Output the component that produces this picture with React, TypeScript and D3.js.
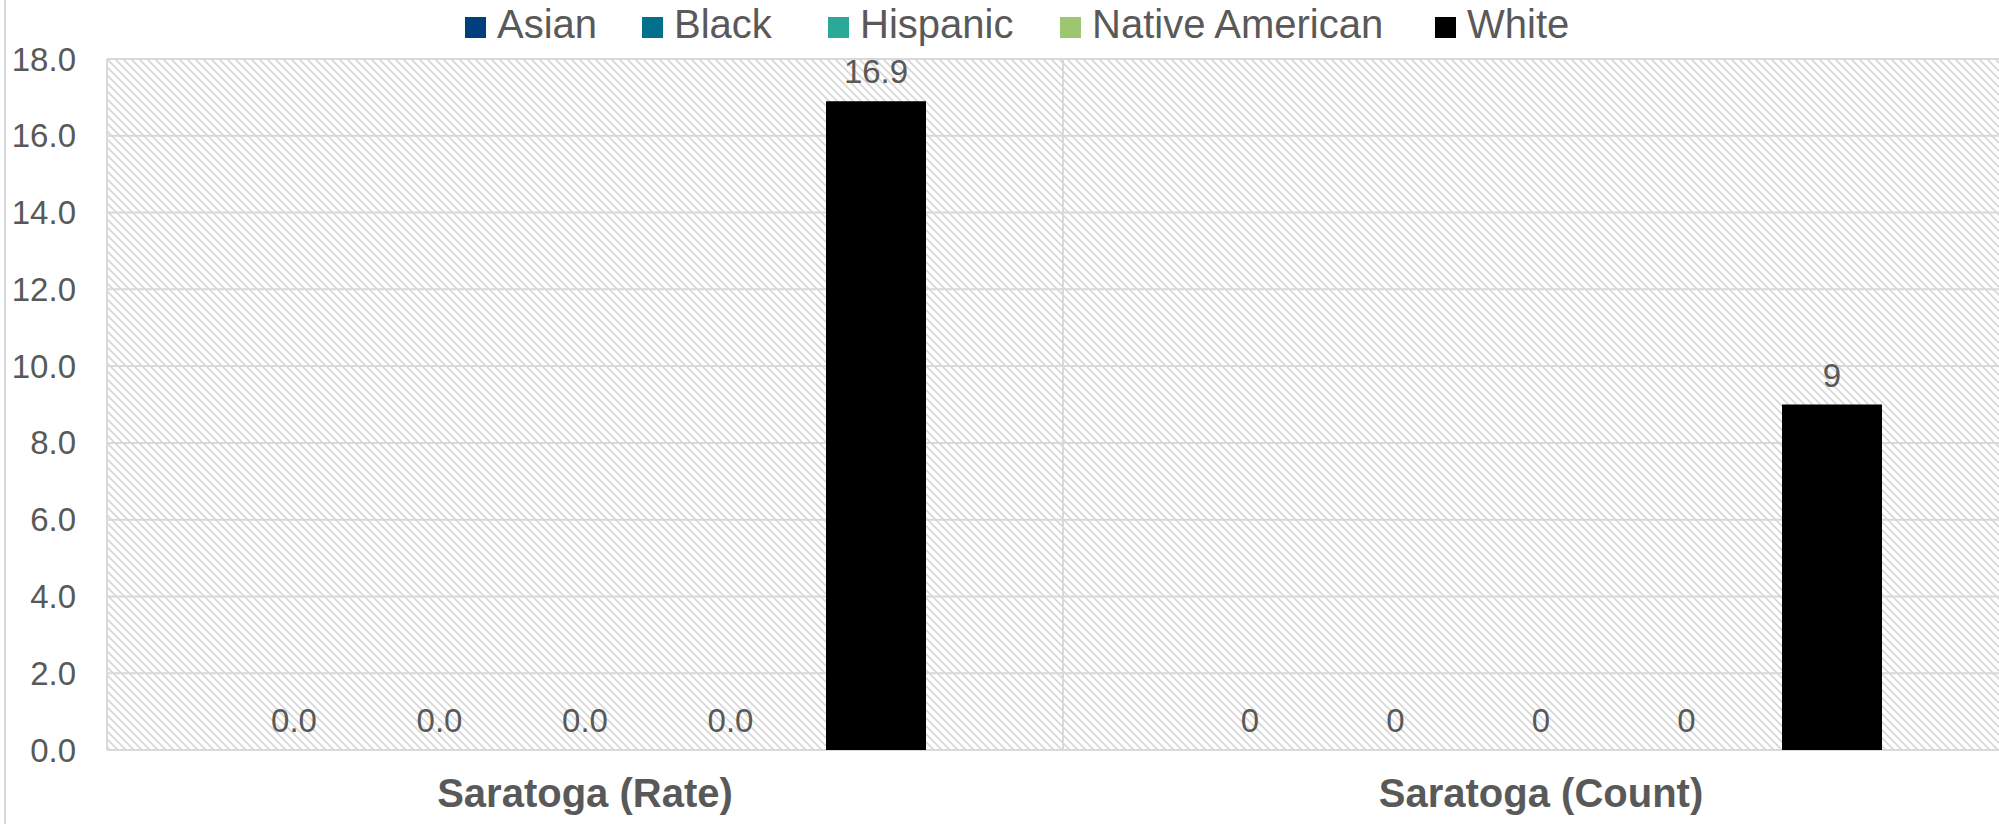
import React from 'react';
import * as d3 from 'd3';

// chart data
const categories = ['Saratoga (Rate)', 'Saratoga (Count)'];
const seriesNames = ['Asian', 'Black', 'Hispanic', 'Native American', 'White'];
const asian = [0, 0];
const black = [0, 0];
const hispanic = [0, 0];
const nativeAmerican = [0, 0];
const white = [16.9, 9];
const labelDecimals = [1, 0];
const yTicks = [0, 2, 4, 6, 8, 10, 12, 14, 16, 18];

const seriesValues = [asian, black, hispanic, nativeAmerican, white];
const colors = ['#003F7D', '#00708E', '#2AA898', '#9DC670', '#000000'];

const W = 1999;
const H = 824;
const margin = { top: 59, left: 107, bottom: 750, right: 2019 };
const textColor = '#595959';
const gridColor = '#d9d9d9';
const font = '"Liberation Sans", Arial, sans-serif';

// legend item left edges (square start), as laid out by the source
const legendX = [465, 642, 828, 1060, 1435];

export default function App() {
  const x0 = d3.scaleBand<string>()
    .domain(categories)
    .range([margin.left, margin.right])
    .padding(0);

  const bw = x0.bandwidth();
  const outerPad = bw * 0.1433;
  const x1 = d3.scaleBand<string>()
    .domain(seriesNames)
    .range([outerPad, bw - outerPad])
    .paddingInner(0.3127)
    .paddingOuter(0);

  const y = d3.scaleLinear()
    .domain([0, 18])
    .range([margin.bottom, margin.top]);

  const boundaries = [...categories.map((c) => x0(c) as number), margin.right];

  return (
    <svg width={W} height={H} style={{ position: 'absolute', left: 0, top: 0, display: 'block' }}
      fontFamily={font}>
      <defs>
        <pattern id="hatch" width="8" height="8" patternUnits="userSpaceOnUse">
          <rect width="8" height="8" fill="#ffffff" />
          <path d="M-2,-2 L10,10 M-2,6 L2,10 M6,-2 L10,2" stroke="#d6d6d6" strokeWidth="1.6" />
        </pattern>
      </defs>

      <rect x={0} y={0} width={W} height={H} fill="#ffffff" />
      <line x1={5} x2={5} y1={0} y2={H} stroke={gridColor} strokeWidth={2} />

      {/* plot area */}
      <rect x={margin.left} y={margin.top} width={margin.right - margin.left}
        height={margin.bottom - margin.top} fill="url(#hatch)" />

      {/* horizontal gridlines */}
      {yTicks.map((t) => (
        <line key={'g' + t} x1={margin.left} x2={margin.right} y1={y(t)} y2={y(t)}
          stroke={gridColor} strokeWidth={2} />
      ))}
      {/* vertical category gridlines */}
      {boundaries.map((b, i) => (
        <line key={'v' + i} x1={b} x2={b} y1={margin.top} y2={margin.bottom}
          stroke={gridColor} strokeWidth={2} />
      ))}

      {/* y tick labels */}
      {yTicks.map((t) => (
        <text key={'t' + t} x={76} y={y(t)} dy="0.35em" textAnchor="end"
          fontSize={33} fill={textColor}>{t.toFixed(1)}</text>
      ))}

      {/* bars and labels */}
      {categories.map((cat, ci) => (
        <g key={cat} transform={`translate(${x0(cat)},0)`}>
          {seriesNames.map((s, si) => {
            const v = seriesValues[si][ci];
            const bx = x1(s) as number;
            return (
              <g key={s}>
                <rect x={bx} y={y(v)} width={x1.bandwidth()} height={y(0) - y(v)} fill={colors[si]} />
                <text x={bx + x1.bandwidth() / 2} y={y(v) - 18} textAnchor="middle"
                  fontSize={33} fill={textColor}>{v.toFixed(labelDecimals[ci])}</text>
              </g>
            );
          })}
          <text x={bw / 2} y={807} textAnchor="middle" fontSize={40} fontWeight="bold"
            fill={textColor}>{cat}</text>
        </g>
      ))}

      {/* legend */}
      {seriesNames.map((s, i) => (
        <g key={'l' + s} transform={`translate(${legendX[i]},0)`}>
          <rect x={0} y={17} width={21} height={21} fill={colors[i]} />
          <text x={32} y={38} fontSize={40} fill={textColor}>{s}</text>
        </g>
      ))}
    </svg>
  );
}
